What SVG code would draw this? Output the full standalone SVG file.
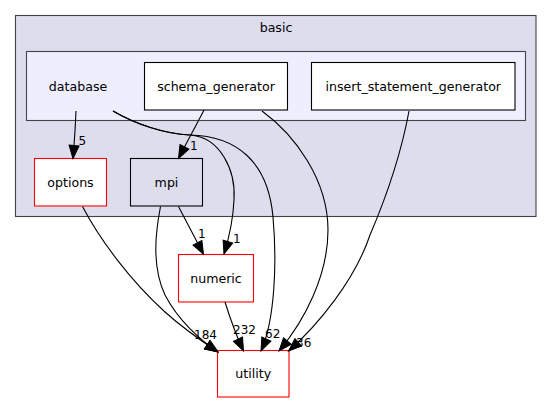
<svg xmlns="http://www.w3.org/2000/svg" width="552" height="404" viewBox="0 0 552 404">
<style>
text{font-family:"DejaVu Sans","Liberation Sans",sans-serif;fill:#000}
.n{font-size:12.6px;text-anchor:middle}
.l{font-size:12px}
.e{fill:none;stroke:#000;stroke-width:1.1}
.box{fill:#fff;stroke:#000;stroke-width:1.1}
.red{fill:#fff;stroke:#f00;stroke-width:1.1}
</style>
<defs>
<marker id="ah" markerUnits="userSpaceOnUse" markerWidth="16" markerHeight="12" refX="13" refY="5" orient="auto" overflow="visible">
<path d="M0,0 L13,5 L0,10 Z" fill="#000" stroke="#000" stroke-width="1"/>
</marker>
</defs>
<g id="cluster_basic">
<rect x="15.5" y="15.5" width="520.5" height="201" fill="#ddddee" stroke="#444" stroke-width="1.1"/>
<text class="n" x="276" y="31.5">basic</text>
</g>
<g id="cluster_database">
<rect x="26.5" y="51.5" width="499" height="69" fill="#eeeeff" stroke="#444" stroke-width="1.1"/>
<text class="n" x="78" y="90.5">database</text>
</g>
<g id="node_schema_generator">
<rect class="box" x="144.5" y="62.5" width="143" height="47.5"/>
<text class="n" x="216" y="90.5">schema_generator</text>
</g>
<g id="node_insert_statement_generator">
<rect class="box" x="311.5" y="62.5" width="203.5" height="47.5"/>
<text class="n" x="413.25" y="90.5">insert_statement_generator</text>
</g>
<g id="node_options">
<rect class="red" x="34.5" y="158.5" width="72" height="47.5"/>
<text class="n" x="70.5" y="186.5">options</text>
</g>
<g id="node_mpi">
<rect x="130.5" y="158.5" width="72" height="47.5" fill="#ddddee" stroke="#000" stroke-width="1.1"/>
<text class="n" x="166.5" y="186.5">mpi</text>
</g>
<g id="node_numeric">
<rect class="red" x="178.5" y="254.5" width="75" height="47.5"/>
<text class="n" x="216" y="282.5">numeric</text>
</g>
<g id="node_utility">
<rect class="red" x="217.5" y="350.5" width="71.5" height="46.5"/>
<text class="n" x="253.25" y="378">utility</text>
</g>
<g id="connectors">
<path class="e" marker-end="url(#ah)" d="M76,111 C75.5,125 74.5,140 73,158.5"/>
<text class="l" x="78.5" y="145">5</text>
<path class="e" marker-end="url(#ah)" d="M204,110 C198,122 188,140 178.5,158.5"/>
<text class="l" x="190" y="150">1</text>
<path class="e" marker-end="url(#ah)" d="M113,111 C135,124 165,134 190,135 C220,137 236,170 234,200 C233,222 229,238 224,254"/>
<text class="l" x="233" y="242.5">1</text>
<path class="e" marker-end="url(#ah)" d="M113,111 C135,124 165,134 190,135 C235,136 268,160 273,217 C277,262 275,320 261,351"/>
<text class="l" x="265" y="338">62</text>
<path class="e" marker-end="url(#ah)" d="M262,111 C295,135 328,180 328,230 C328,275 305,320 279,351"/>
<path class="e" marker-end="url(#ah)" d="M409,111 C400,160 385,200 370,235 C355,280 318,325 288.5,351"/>
<text class="l" x="296" y="347">36</text>
<path class="e" marker-end="url(#ah)" d="M178.5,206.5 L203.5,254.3"/>
<text class="l" x="198" y="238">1</text>
<path class="e" marker-end="url(#ah)" d="M160.5,206.5 C156,230 151,265 165,295 C178,320 200,340 218,352"/>
<path class="e" marker-end="url(#ah)" d="M82.5,206.5 C100,240 130,280 165,312 C185,330 203,342 218,352"/>
<text class="l" x="194" y="339">184</text>
<path class="e" marker-end="url(#ah)" d="M225,302 C230,318 236,335 243.5,351"/>
<text class="l" x="233" y="334">232</text>
</g>
</svg>
